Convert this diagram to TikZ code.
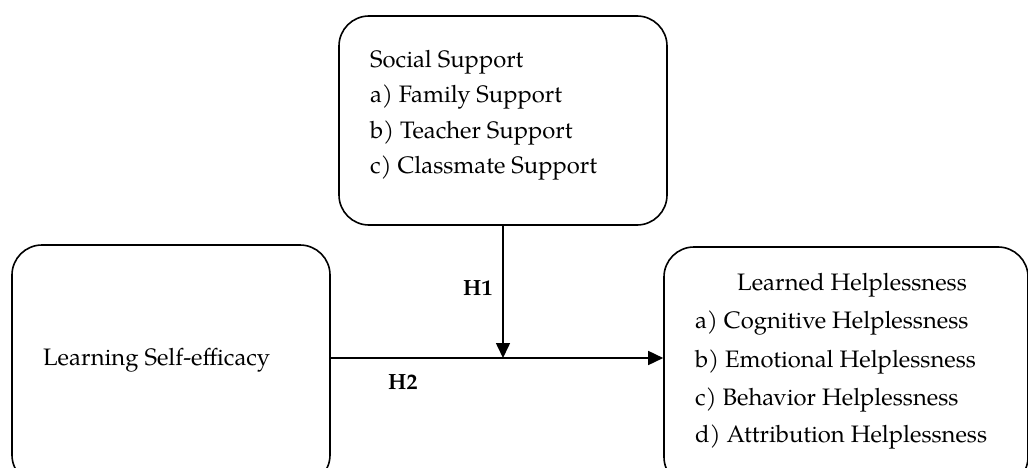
\documentclass[tikz,border=0pt]{standalone}
\usepackage{fontspec}
\setmainfont{TeX Gyre Pagella}
\usetikzlibrary{arrows.meta}
\tikzset{
  box/.style={draw, line width=1.6pt, rounded corners=30pt, inner sep=0pt},
  txt/.style={anchor=base west, inner sep=0pt, font=\fontsize{23.8}{28}\selectfont},
  lbl/.style={anchor=base west, inner sep=0pt, font=\fontsize{22}{26}\selectfont\bfseries},
  arr/.style={line width=1.6pt, -{Triangle[length=15pt,width=14pt]}},
}
\begin{document}
\begin{tikzpicture}[x=1pt,y=-1pt]
\useasboundingbox (0,0) rectangle (1028,468);
\clip (0,0) rectangle (1028,468);
\node[box, minimum width=328pt, minimum height=209pt] (ss) at (503,120.5) {};
\node[box, minimum width=318pt, minimum height=240pt] (lse) at (171,365) {};
\node[box, minimum width=364pt, minimum height=240pt] (lh) at (846,367) {};
\coordinate (mid) at (503,358);
\node[txt] (t1) at (370,68) {Social Support};
\node[txt] (t2) at (370,103) {a) Family Support};
\node[txt] (t3) at (370,138.5) {b) Teacher Support};
\node[txt] (t4) at (370,174) {c) Classmate Support};
\node[txt] (t5) at (43,365) {Learning Self-efficacy};
\node[txt] (t6) at (737,290) {Learned Helplessness};
\node[txt] (t7) at (695,328) {a) Cognitive Helplessness};
\node[txt] (t8) at (695,367) {b) Emotional Helplessness};
\node[txt] (t9) at (695,405) {c) Behavior Helplessness};
\node[txt] (t10) at (695,442) {d) Attribution Helplessness};
\node[lbl] (h1) at (463,295) {H1};
\node[lbl] (h2) at (388,389) {H2};
\draw[arr] (ss.south) -- (mid);
\draw[arr] (lse.east |- mid) -- (lh.west |- mid);
\end{tikzpicture}
\end{document}
